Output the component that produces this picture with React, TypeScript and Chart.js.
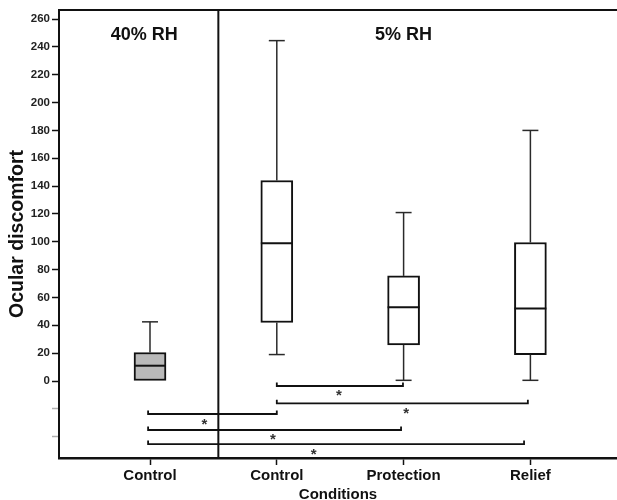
import React, { useEffect, useRef } from 'react';
import { Chart, registerables } from 'chart.js';

Chart.register(...registerables);

// ---- data ----
const categories = ['Control', 'Control', 'Protection', 'Relief'];
const boxX = [0, 1, 2, 3];
const whiskerLow = [0, 19, 0.5, 0.5];
const q1 = [0, 42, 26, 19];
const median = [11, 99, 53, 52];
const q3 = [20.5, 144, 75.5, 99.5];
const whiskerHigh = [42.5, 244.5, 121, 180];
const boxFill = ['#b9b9b9', '#ffffff', '#ffffff', '#ffffff'];

const yTicks = [-40, -20, 0, 20, 40, 60, 80, 100, 120, 140, 160, 180, 200, 220, 240, 260];

const bracketFrom = [1, 1, -0.015, -0.015, -0.015];
const bracketTo = [1.995, 2.98, 1.0, 1.98, 2.95];
const bracketLevel = [-3.6, -16, -23.7, -35.2, -45.3];
const starX = [1.49, 2.02, 0.43, 0.97, 1.29];
const starY = [-7.7, -20.8, -28.5, -38.8, -49.6];

const groupLabels = ['40% RH', '5% RH'];
const groupLabelX = [-0.045, 2];
const groupLabelY = [248.2, 248.2];
const separatorX = 0.539;

const Y_MIN = -55.3;
const Y_MAX = 266.5;
const X_MIN = -0.7177;
const X_MAX = 3.683;

// ---- styles ----
const FONT = '"Liberation Sans", Arial, Helvetica, sans-serif';
const INK = '#111111';
const WHISKER = '#2a2a2a';
const CAP = 0.063;
const BOXHALF = 0.126;
const BRACKET_TICK = 2.5;

type Seg = { pts: [number, number][]; color: string; width: number };

function buildSegments(): Seg[] {
  const segs: Seg[] = [];
  boxX.forEach((x, i) => {
    segs.push({ pts: [[x, q3[i]], [x, whiskerHigh[i]]], color: WHISKER, width: 1.5 });
    segs.push({ pts: [[x - CAP, whiskerHigh[i]], [x + CAP, whiskerHigh[i]]], color: WHISKER, width: 1.5 });
    if (whiskerLow[i] < q1[i]) {
      segs.push({ pts: [[x, whiskerLow[i]], [x, q1[i]]], color: WHISKER, width: 1.5 });
      segs.push({ pts: [[x - CAP, whiskerLow[i]], [x + CAP, whiskerLow[i]]], color: WHISKER, width: 1.5 });
    }
    segs.push({ pts: [[x - BOXHALF, median[i]], [x + BOXHALF, median[i]]], color: INK, width: 2 });
  });
  bracketLevel.forEach((lv, i) => {
    segs.push({
      pts: [
        [bracketFrom[i], lv + BRACKET_TICK],
        [bracketFrom[i], lv],
        [bracketTo[i], lv],
        [bracketTo[i], lv + BRACKET_TICK],
      ],
      color: INK,
      width: 1.8,
    });
  });
  segs.push({ pts: [[separatorX, Y_MIN], [separatorX, Y_MAX]], color: INK, width: 2 });
  return segs;
}

const textPlugin = {
  id: 'annotTexts',
  afterDatasetsDraw(chart: any) {
    const { ctx, scales } = chart;
    const xs = scales.x;
    const ys = scales.y;
    ctx.save();
    ctx.fillStyle = INK;
    ctx.textAlign = 'center';
    ctx.textBaseline = 'middle';
    ctx.font = `bold 18px ${FONT}`;
    groupLabels.forEach((t, i) => {
      ctx.fillText(t, xs.getPixelForValue(groupLabelX[i]), ys.getPixelForValue(groupLabelY[i]));
    });
    ctx.font = `bold 15px ${FONT}`;
    ctx.fillStyle = '#333';
    ctx.textBaseline = 'alphabetic';
    starX.forEach((sx, i) => {
      ctx.fillText('*', xs.getPixelForValue(sx), ys.getPixelForValue(starY[i]) + 8.5);
    });
    ctx.restore();
  },
};

export default function App() {
  const ref = useRef<HTMLCanvasElement | null>(null);

  useEffect(() => {
    if (!ref.current) return;
    const segs = buildSegments();
    const lineSets = segs.map((s) => ({
      type: 'line' as const,
      data: s.pts.map(([x, y]) => ({ x, y })),
      borderColor: s.color,
      borderWidth: s.width,
      pointRadius: 0,
      pointHoverRadius: 0,
      fill: false,
      tension: 0,
      order: 0,
      borderCapStyle: 'butt' as const,
      borderJoinStyle: 'miter' as const,
    }));
    const chart = new Chart(ref.current, {
      type: 'scatter',
      data: {
        datasets: [
          {
            type: 'bar',
            data: boxX.map((x, i) => ({ x, y: [q1[i], q3[i]] })) as any,
            backgroundColor: boxFill,
            borderColor: INK,
            borderWidth: 2,
            borderSkipped: false,
            barThickness: 32,
            grouped: false,
            order: 1,
          } as any,
          ...lineSets,
        ],
      },
      options: {
        animation: false,
        responsive: false,
        events: [],
        layout: { padding: { top: 10, left: 0, right: 0, bottom: 0 } },
        plugins: { legend: { display: false }, tooltip: { enabled: false } },
        scales: {
          x: {
            type: 'linear',
            position: 'bottom',
            min: X_MIN,
            max: X_MAX,
            offset: false,
            afterBuildTicks: (s: any) => {
              s.ticks = boxX.map((v) => ({ value: v }));
            },
            afterFit: (s: any) => {
              s.height = 42;
            },
            ticks: {
              callback: (_v: any, i: number) => categories[i],
              font: { family: FONT, size: 15, weight: 'bold' },
              color: INK,
              padding: 2,
              maxRotation: 0,
              autoSkip: false,
            },
            grid: {
              display: true,
              drawOnChartArea: false,
              drawTicks: true,
              tickLength: 7,
              tickWidth: 1.5,
              tickColor: INK,
              offset: false,
            },
            border: { display: true, width: 2.5, color: INK },
            title: {
              display: true,
              text: 'Conditions',
              font: { family: FONT, size: 15, weight: 'bold', lineHeight: 1 },
              color: INK,
              padding: { top: 0, bottom: -2.5 },
            },
          },
          xTop: {
            type: 'linear',
            position: 'top',
            display: true,
            min: 0,
            max: 1,
            ticks: { display: false },
            grid: { display: false, drawTicks: false },
            border: { display: true, width: 2, color: INK },
            afterFit: (s: any) => {
              s.height = 0;
            },
          },
          y: {
            type: 'linear',
            min: Y_MIN,
            max: Y_MAX,
            afterBuildTicks: (s: any) => {
              s.ticks = yTicks.map((v) => ({ value: v }));
            },
            afterFit: (s: any) => {
              s.width = 59;
            },
            ticks: {
              callback: (v: any) => (Number(v) >= 0 ? String(v) : ''),
              font: { family: FONT, size: 11.5, weight: 'bold' },
              color: '#222',
              padding: 2,
              autoSkip: false,
            },
            grid: {
              display: true,
              drawOnChartArea: false,
              drawTicks: true,
              tickLength: 7,
              tickWidth: 1.5,
              tickColor: (c: any) => (c.tick && c.tick.value < 0 ? '#b0b0b0' : INK),
            },
            border: { display: true, width: 2, color: INK },
            title: {
              display: true,
              text: 'Ocular discomfort',
              font: { family: FONT, size: 19.5, weight: 'bold', lineHeight: 1.1 },
              color: INK,
              padding: { top: 7, bottom: 0 },
            },
          },
        },
      } as any,
      plugins: [textPlugin],
    });
    return () => chart.destroy();
  }, []);

  return (
    <div style={{ position: 'absolute', left: 0, top: 0, width: 617, height: 500, background: '#fff' }}>
      <canvas ref={ref} width={617} height={500} style={{ display: 'block', width: 617, height: 500 }} />
    </div>
  );
}
